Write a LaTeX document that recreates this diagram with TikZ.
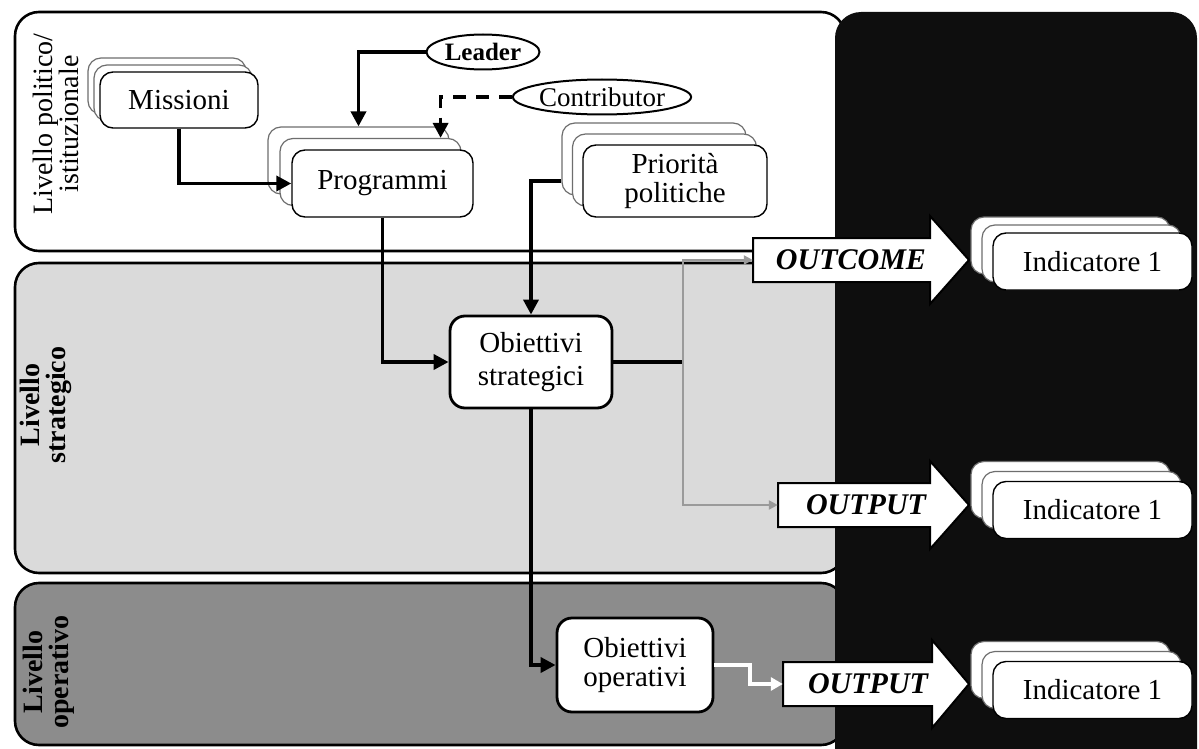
\documentclass[tikz,border=0pt]{standalone}
\usepackage{fontspec}
\setmainfont{Liberation Serif}
\usepackage{xcolor}
\usepackage{tikz}
\usetikzlibrary{arrows.meta,shapes.geometric}
\definecolor{panelblack}{HTML}{0E0E0E}
\definecolor{stratgray}{HTML}{DADADA}
\definecolor{opgray}{HTML}{8C8C8C}
\definecolor{linkgray}{HTML}{9A9A9A}
\definecolor{backline}{HTML}{6E6E6E}
\newcommand\fsz[2]{\fontsize{#1}{#2}\selectfont}
\tikzset{
  levelbox/.style={draw=black, line width=2.6pt, rounded corners=24pt},
  card/.style={draw=black, line width=1.4pt, rounded corners=13pt, fill=white, align=center, inner sep=0pt, font=\fsz{29}{27}},
  cardback/.style={draw=backline, line width=1.2pt, rounded corners=13pt, fill=white, inner sep=0pt},
  goal/.style={draw=black, line width=2.8pt, rounded corners=15pt, fill=white, align=center, inner sep=0pt, font=\fsz{29}{33}},
  role/.style={ellipse, draw=black, line width=2pt, fill=white, inner sep=0pt},
  lvltext/.style={rotate=90, align=center, font=\fsz{28}{26}},
  lvlbold/.style={rotate=90, align=center, font=\fsz{28}{26}\bfseries},
  blockarrow/.style={draw=black, line width=2pt, fill=white, line join=miter},
  flowbody/.style={inner xsep=4pt, inner ysep=0pt, align=right, minimum height=44pt, font=\fsz{30}{30}\bfseries\itshape},
  link/.style={line width=3.6pt, -{Triangle[length=15pt,width=15pt]}},
  plainlink/.style={line width=3.6pt},
  dashlink/.style={line width=3.6pt, dash pattern=on 13pt off 10pt, -{Triangle[length=15pt,width=15pt]}},
  graylink/.style={draw=linkgray, line width=2.2pt, -{Triangle[length=9pt,width=9pt]}},
  whitelink/.style={draw=white, line width=4pt, -{Triangle[length=12pt,width=13pt]}}
}

\begin{document}
\begin{tikzpicture}[x=1pt, y=-1pt]
  \useasboundingbox (0,0) rectangle (1199,749);

  % levels and dark panel
  \draw[levelbox, fill=white] (15,12) rectangle (845,251);
  \draw[levelbox, fill=stratgray] (15,263) rectangle (845,573);
  \draw[levelbox, fill=opgray] (15,583) rectangle (845,745);
  \fill[panelblack, rounded corners=26pt] (835,12) rectangle (1197,790);

  \node[lvltext] (lvlpol) at (56,124) {Livello politico/\\istituzionale};
  \node[lvlbold] (lvlstr) at (46,405) {Livello\\strategico};
  \node[lvlbold] (lvlop) at (49,672) {Livello\\operativo};

  % stacked cards
  \node[cardback, minimum width=158pt, minimum height=56pt] (miss3) at (167,86) {};
  \node[cardback, minimum width=158pt, minimum height=56pt] (miss2) at (173,93) {};
  \node[card, minimum width=158pt, minimum height=56pt] (miss) at (179,100) {Missioni};

  \node[cardback, minimum width=181pt, minimum height=67pt] (prog3) at (358.5,160.5) {};
  \node[cardback, minimum width=181pt, minimum height=67pt] (prog2) at (370.5,172) {};
  \node[card, minimum width=181pt, minimum height=67pt] (prog) at (382.5,183.5) {Programmi};

  \node[cardback, minimum width=184pt, minimum height=72pt] (prio3) at (654,159) {};
  \node[cardback, minimum width=184pt, minimum height=72pt] (prio2) at (664.5,170) {};
  \node[card, minimum width=184pt, minimum height=72pt, font=\fsz{29}{29}] (prio) at (675,181) {Priorità\\politiche};

  \node[role, minimum width=113pt, minimum height=35pt, font=\fsz{25}{25}\bfseries] (leader) at (483,52) {Leader};
  \node[role, minimum width=147pt, minimum height=35pt, font=\fsz{27}{27}] (contrib) at (602,97) {Contributor};

  \node[goal, minimum width=162pt, minimum height=92pt] (obs) at (531,362) {Obiettivi\\strategici};
  \node[goal, minimum width=156pt, minimum height=94pt, font=\fsz{29}{29}] (ops) at (635,665) {Obiettivi\\operativi};

  % block arrows
  \draw[blockarrow] (753,238) -- (930,238) -- (930,216) -- (969,260) -- (930,304) -- (930,282) -- (753,282) -- cycle;
  \node[flowbody, text width=169pt] (outcome) at (841.5,260) {OUTCOME};
  \draw[blockarrow] (778,483) -- (930,483) -- (930,461) -- (969,505) -- (930,549) -- (930,527) -- (778,527) -- cycle;
  \node[flowbody, text width=144pt] (outputmid) at (854,505) {OUTPUT};
  \draw[blockarrow] (783,662) -- (932,662) -- (932,640) -- (969,684) -- (932,728) -- (932,706) -- (783,706) -- cycle;
  \node[flowbody, text width=141pt] (outputlow) at (857.5,684) {OUTPUT};

  % indicators
  \node[cardback, minimum width=199pt, minimum height=57pt] (ind3) at (1070.5,245.5) {};
  \node[cardback, minimum width=199pt, minimum height=57pt] (ind2) at (1081.5,253.5) {};
  \node[card, minimum width=199pt, minimum height=57pt] (ind) at (1092.5,261.5) {Indicatore 1};
  \node[cardback, minimum width=199pt, minimum height=57pt] (indmid3) at (1070.5,490) {};
  \node[cardback, minimum width=199pt, minimum height=57pt] (indmid2) at (1081.5,500) {};
  \node[card, minimum width=199pt, minimum height=57pt] (indmid) at (1092.5,510) {Indicatore 1};
  \node[cardback, minimum width=199pt, minimum height=57pt] (indlow3) at (1070.5,670) {};
  \node[cardback, minimum width=199pt, minimum height=57pt] (indlow2) at (1081.5,680) {};
  \node[card, minimum width=199pt, minimum height=57pt] (indlow) at (1092.5,690) {Indicatore 1};

  % connectors
  \draw[link] (leader.west) -| (prog3.north);
  \draw[dashlink] (contrib.west) -| ([xshift=-21pt]prog2.north east);
  \draw[link] (miss.south) |- (prog.west);
  \draw[link] (prog.south) |- (obs.west);
  \draw[link] (prio3.west |- prio.west) -| (obs.north);
  \draw[link] (obs.south) |- (ops.west);
  \coordinate (split) at (683,362);
  \draw[plainlink] (obs.east) -- (split);
  \draw[graylink] (split) |- (outcome.west);
  \draw[graylink] (split) |- (outputmid.west);
  \draw[whitelink] (ops.east) -- ++(36,0) |- (outputlow.west);
\end{tikzpicture}
\end{document}
